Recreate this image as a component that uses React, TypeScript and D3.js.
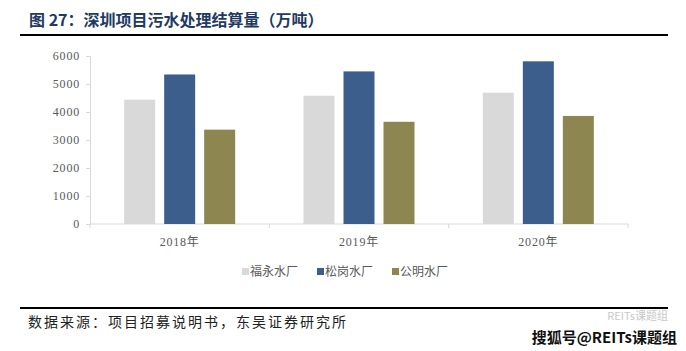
import { useEffect, useRef } from 'react';
import * as d3 from 'd3';

const years = ['2018年', '2019年', '2020年'];
const plants = ['福永水厂', '松岗水厂', '公明水厂'];
const fuyong = [4440, 4580, 4690];
const songgang = [5340, 5450, 5810];
const gongming = [3370, 3650, 3860];
const yTicks = [0, 1000, 2000, 3000, 4000, 5000, 6000];

const colors = ['#d9d9d9', '#3b5e8c', '#8d8650'];
const serif = '"Liberation Serif", "Noto Sans CJK SC", serif';
const cjk = '"Noto Sans CJK SC", sans-serif';

export default function App() {
  const svgRef = useRef<SVGSVGElement>(null);

  useEffect(() => {
    const svg = d3.select(svgRef.current);
    svg.selectAll('*').remove();

    const width = 686;
    const height = 351;
    svg.attr('width', width).attr('height', height);

    svg.append('rect').attr('width', width).attr('height', height).attr('fill', '#fff');

    // Title
    svg.append('text')
      .attr('x', 29)
      .attr('y', 26)
      .attr('font-family', cjk)
      .attr('font-weight', 'bold')
      .attr('font-size', 16)
      .attr('fill', '#1f3a63')
      .text('图 27：深圳项目污水处理结算量（万吨）');

    svg.append('line')
      .attr('x1', 20).attr('x2', 668)
      .attr('y1', 35).attr('y2', 35)
      .attr('stroke', '#000').attr('stroke-width', 2);

    const margin = { left: 90, right: 58, top: 56, bottom: 127 };
    const x0 = d3.scaleBand().domain(years).range([margin.left, width - margin.right]);
    const y = d3.scaleLinear().domain([0, 6000]).range([height - margin.bottom, margin.top]);

    const series = [fuyong, songgang, gongming];
    const barW = 31;
    const gap = 9;
    const groupW = barW * 3 + gap * 2;

    // axes
    const yAxis = svg.append('g')
      .attr('transform', `translate(${margin.left},0)`)
      .call(d3.axisLeft(y).tickValues(yTicks).tickSize(4).tickPadding(6).tickFormat(d3.format('d')));
    yAxis.select('.domain').attr('stroke', '#d9d9d9');
    yAxis.selectAll('line').attr('stroke', '#d9d9d9');
    yAxis.selectAll('text')
      .attr('font-family', serif)
      .attr('font-size', 12)
      .attr('letter-spacing', 0.8)
      .attr('fill', '#595959');

    const xAxis = svg.append('g')
      .attr('transform', `translate(0,${y(0)})`);
    xAxis.append('line')
      .attr('x1', x0.range()[0]).attr('x2', x0.range()[1])
      .attr('stroke', '#d9d9d9');
    const bounds = [...years.map(d => x0(d) as number), x0.range()[1]];
    xAxis.selectAll('.tk')
      .data(bounds)
      .enter()
      .append('line')
      .attr('x1', d => d).attr('x2', d => d)
      .attr('y1', 0).attr('y2', 4)
      .attr('stroke', '#d9d9d9');
    xAxis.selectAll('.lbl')
      .data(years)
      .enter()
      .append('text')
      .attr('x', d => (x0(d) as number) + x0.bandwidth() / 2)
      .attr('y', 22)
      .attr('text-anchor', 'middle')
      .attr('font-family', serif)
      .attr('font-size', 12)
      .attr('letter-spacing', 0.8)
      .attr('fill', '#595959')
      .text(d => d);

    // bars
    series.forEach((vals, si) => {
      svg.append('g')
        .selectAll('rect')
        .data(vals)
        .enter()
        .append('rect')
        .attr('x', (d, i) => (x0(years[i]) as number) + x0.bandwidth() / 2 - groupW / 2 + si * (barW + gap))
        .attr('y', d => y(d))
        .attr('width', barW)
        .attr('height', d => y(0) - y(d))
        .attr('fill', colors[si]);
    });

    // legend
    const legendX = [242, 317, 392];
    const legend = svg.append('g');
    plants.forEach((p, i) => {
      legend.append('rect')
        .attr('x', legendX[i]).attr('y', 268)
        .attr('width', 7).attr('height', 7)
        .attr('fill', colors[i]);
      legend.append('text')
        .attr('x', legendX[i] + 8)
        .attr('y', 276)
        .attr('font-family', cjk)
        .attr('font-size', 12)
        .attr('fill', '#595959')
        .text(p);
    });

    // footer
    svg.append('line')
      .attr('x1', 20).attr('x2', 668)
      .attr('y1', 308).attr('y2', 308)
      .attr('stroke', '#000').attr('stroke-width', 2);

    svg.append('text')
      .attr('x', 28)
      .attr('y', 327)
      .attr('font-family', cjk)
      .attr('font-size', 14)
      .attr('letter-spacing', 2)
      .attr('fill', '#222')
      .text('数据来源：项目招募说明书，东吴证券研究所');

    svg.append('text')
      .attr('x', 668)
      .attr('y', 320)
      .attr('text-anchor', 'end')
      .attr('font-family', cjk)
      .attr('font-size', 11)
      .attr('fill', '#c8c8c8')
      .text('REITs课题组');

    svg.append('text')
      .attr('x', 677)
      .attr('y', 343)
      .attr('text-anchor', 'end')
      .attr('font-family', cjk)
      .attr('font-weight', 'bold')
      .attr('font-size', 15)
      .attr('fill', '#111')
      .text('搜狐号@REITs课题组');
  }, []);

  return (
    <div style={{ position: 'absolute', left: 0, top: 0 }}>
      <svg ref={svgRef} style={{ display: 'block' }}></svg>
    </div>
  );
}
